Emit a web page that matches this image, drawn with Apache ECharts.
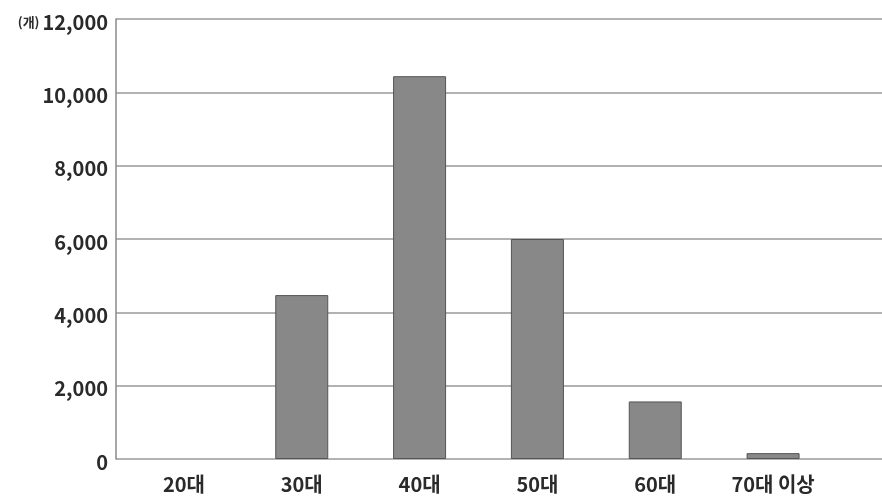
<!DOCTYPE html>
<html><head><meta charset="utf-8">
<script src="https://cdn.jsdelivr.net/npm/echarts@6/dist/echarts.min.js"></script>
<style>html,body{margin:0;padding:0;background:#fff}#c{width:882px;height:498px}</style>
</head><body><div id="c"></div>
<script>
const categories = ['20대', '30대', '40대', '50대', '60대', '70대 이상'];
const values = [0, 4470, 10440, 6000, 1570, 160];
const yMin = 0, yMax = 12000, yStep = 2000;
const unitLabel = '(개)';

const chart = echarts.init(document.getElementById('c'));
const font = '"Noto Sans CJK KR", "Noto Sans", sans-serif';
chart.setOption({
  animation: false,
  grid: [
    {left: 125, right: 50, top: 19, bottom: 39},
    {left: 116, right: 0, top: 19, bottom: 39}
  ],
  xAxis: [
    {type: 'category', gridIndex: 0, data: categories,
     axisLine: {show: false}, axisTick: {show: false},
     axisLabel: {color: '#2a2a2a', fontFamily: font, fontSize: 20, fontWeight: 'bold', margin: 15}},
    {type: 'value', gridIndex: 1, min: 0, max: 1, show: false}
  ],
  yAxis: [
    {type: 'value', gridIndex: 0, min: yMin, max: yMax, interval: yStep, show: false},
    {type: 'value', gridIndex: 1, min: yMin, max: yMax, interval: yStep,
     axisLine: {show: true, lineStyle: {color: '#888', width: 1.5}},
     axisTick: {show: false},
     splitLine: {lineStyle: {color: '#999', width: 1.5}},
     axisLabel: {color: '#2a2a2a', fontFamily: font, fontSize: 20, fontWeight: 'bold', margin: 8,
       padding: [6, 0, 0, 0],
       formatter: function (v) {
         const s = v.toLocaleString('en-US');
         return v === yMax ? '{u|' + unitLabel + '}' + s : s;
       },
       rich: {u: {fontSize: 13, fontFamily: font, fontWeight: 'bold', color: '#2a2a2a', padding: [0, 3, 0, 0]}}}}
  ],
  series: [{
    type: 'bar', xAxisIndex: 0, yAxisIndex: 0, barWidth: 53,
    data: values.map(v => v === 0 ? {value: v, itemStyle: {borderWidth: 0}} : v),
    itemStyle: {color: '#888888', borderColor: '#555', borderWidth: 1}
  }]
});
</script></body></html>
